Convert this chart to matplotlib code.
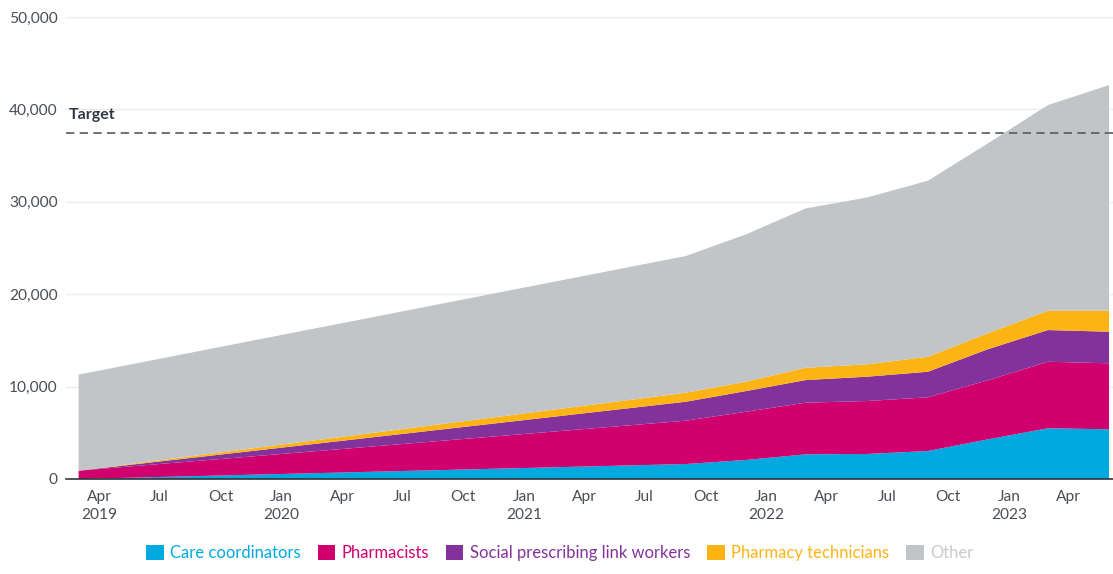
"""
Stacked area chart of additional primary care roles against the target.
"""

import matplotlib
matplotlib.use('Agg')
import matplotlib.pyplot as plt
import matplotlib.transforms as mtransforms
from matplotlib.patches import Patch
import pandas as pd

# Data
dates = pd.to_datetime([
    '2019-03-01', '2021-09-01', '2021-12-01', '2022-03-01', '2022-06-01',
    '2022-09-01', '2022-12-01', '2023-03-01', '2023-06-01',
])
care_coordinators = [0, 1620, 2060, 2670, 2710, 3030, 4300, 5490, 5380]
pharmacists = [900, 4690, 5220, 5590, 5730, 5810, 6400, 7200, 7140]
social_prescribing = [0, 2050, 2240, 2450, 2630, 2770, 3360, 3430, 3420]
pharmacy_technicians = [0, 980, 1010, 1330, 1340, 1620, 1730, 2090, 2270]
other = [10400, 14790, 15950, 17250, 18050, 19050, 20560, 22260, 24420]
target = 37400

series_labels = ['Care coordinators', 'Pharmacists',
                 'Social prescribing link workers', 'Pharmacy technicians',
                 'Other']
series_colors = ['#00a9e0', '#d0006f', '#84329b', '#fcb414', '#c2c5c8']
label_colors = ['#00a9e0', '#d0006f', '#84329b', '#fcb414', '#c8cacc']

tick_dates = pd.date_range('2019-04-01', '2023-04-01', freq='3MS')
y_ticks = [0, 10000, 20000, 30000, 40000, 50000]

plt.rcParams['font.family'] = ['Lato', 'DejaVu Sans']

fig = plt.figure(figsize=(11.13, 5.74), dpi=100)
ax = fig.add_axes([66 / 1113, 1 - 479 / 574, 1 - 66 / 1113, (479 - 17) / 574])

ax.stackplot(dates, care_coordinators, pharmacists, social_prescribing,
             pharmacy_technicians, other, colors=series_colors,
             labels=series_labels, linewidth=0, zorder=2)

# Target line and label
ax.axhline(target, color='#555a60', linestyle=(0, (5, 3.2)), linewidth=1.2,
           zorder=3)
trans = mtransforms.blended_transform_factory(ax.transAxes, ax.transData)
ax.annotate('Target', xy=(0, target), xycoords=trans,
            xytext=(2, 8), textcoords='offset points',
            fontsize=11.5, fontweight='bold', color='#2f3945',
            ha='left', va='bottom')

# Axes styling
ax.set_ylim(0, 50000)
ax.set_xlim(pd.Timestamp('2019-02-10'), pd.Timestamp('2023-06-07'))
ax.set_yticks(y_ticks)
ax.set_yticklabels([f'{v:,}' for v in y_ticks])
ax.grid(axis='y', color='#ececec', linewidth=1, zorder=0)
ax.set_axisbelow(True)

tick_labels = []
for i, d in enumerate(tick_dates):
    label = d.strftime('%b')
    if i == 0 or d.month == 1:
        label += f'\n{d.year}'
    tick_labels.append(label)
ax.set_xticks(tick_dates)
ax.set_xticklabels(tick_labels, linespacing=1.35)

ax.tick_params(axis='both', length=0, labelsize=11.2, labelcolor='#4a4f55')
ax.tick_params(axis='x', pad=8)
ax.tick_params(axis='y', pad=6)

for side in ['top', 'right', 'left']:
    ax.spines[side].set_visible(False)
ax.spines['bottom'].set_color('#2f3439')
ax.spines['bottom'].set_linewidth(1.2)
ax.spines['bottom'].set_zorder(4)

# Legend with coloured text
handles = [Patch(facecolor=c, edgecolor='none') for c in series_colors]
fig.legend(handles, series_labels, loc='center', ncol=5,
           bbox_to_anchor=(0.503, 1 - 553 / 574), frameon=False,
           fontsize=12, handlelength=1.05, handleheight=1.05,
           handletextpad=0.4, columnspacing=1.0, labelcolor=label_colors)

fig.savefig('out.png', dpi=100)
